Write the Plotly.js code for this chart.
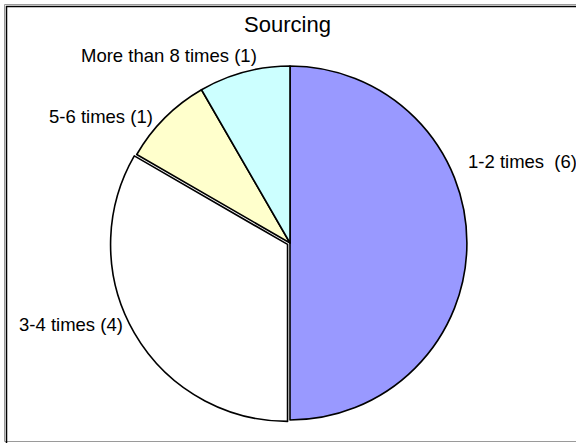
<!DOCTYPE html>
<html>
<head>
<meta charset="utf-8">
<script src="https://cdn.plot.ly/plotly-3.0.1.min.js"></script>
<style>
  html, body { margin: 0; padding: 0; background: #ffffff; }
  #chart { width: 576px; height: 443px; }
</style>
</head>
<body>
<div id="chart"></div>
<script>
// Survey answers: how often sourcing happened
const categories = ['1-2 times', '3-4 times', '5-6 times', 'More than 8 times'];
const counts = [6, 4, 1, 1];
const sliceLabels = ['1-2 times  (6)', '3-4 times (4)', '5-6 times (1)', 'More than 8 times (1)'];
const sliceColors = ['#9999FF', '#FFFFFF', '#FFFFCC', '#CCFFFF'];
const slicePull = [0, 0.016, 0, 0];

const W = 576, H = 443;
const px = x => x / W;
const py = y => 1 - y / H;

// label anchor points (left edge, vertical middle) in pixels
const labelPos = [
  [465.7, 161.7],
  [17.3, 324.2],
  [46.7, 116.7],
  [79.3, 55.8]
];

const font = { family: '"Liberation Sans", Arial, sans-serif', color: '#000000' };

const trace = {
  type: 'pie',
  labels: categories,
  values: counts,
  sort: false,
  direction: 'clockwise',
  rotation: 0,
  pull: slicePull,
  marker: { colors: sliceColors, line: { color: '#000000', width: 1.6 } },
  textinfo: 'none',
  hoverinfo: 'label+value',
  showlegend: false,
  domain: { x: [px(110.2), px(469.8)], y: [py(422.8), py(63.2)] }
};

const annotations = sliceLabels.map((t, i) => ({
  text: t,
  xref: 'paper', yref: 'paper',
  x: px(labelPos[i][0]), y: py(labelPos[i][1]),
  xanchor: 'left', yanchor: 'middle',
  showarrow: false,
  font: Object.assign({ size: 18.5 }, font)
}));

const layout = {
  width: W, height: H,
  autosize: false,
  margin: { l: 0, r: 0, t: 0, b: 0, pad: 0 },
  paper_bgcolor: '#ffffff',
  title: {
    text: 'Sourcing',
    font: Object.assign({ size: 22 }, font),
    xref: 'paper', yref: 'paper',
    x: px(287.5), y: py(24.7),
    xanchor: 'center', yanchor: 'middle'
  },
  annotations: annotations,
  shapes: [
    // outer grey edge
    { type: 'rect', xref: 'paper', yref: 'paper', layer: 'below',
      x0: px(4.5), x1: px(600), y0: py(441.5), y1: py(4.5),
      line: { color: '#9a9a9a', width: 1 }, fillcolor: 'rgba(0,0,0,0)' },
    // chart area frame
    { type: 'rect', xref: 'paper', yref: 'paper', layer: 'below',
      x0: px(6.5), x1: px(600), y0: py(460), y1: py(6.5),
      line: { color: '#000000', width: 1.5 }, fillcolor: 'rgba(0,0,0,0)' }
  ]
};

Plotly.newPlot('chart', [trace], layout, { displayModeBar: false, staticPlot: true });
</script>
</body>
</html>
